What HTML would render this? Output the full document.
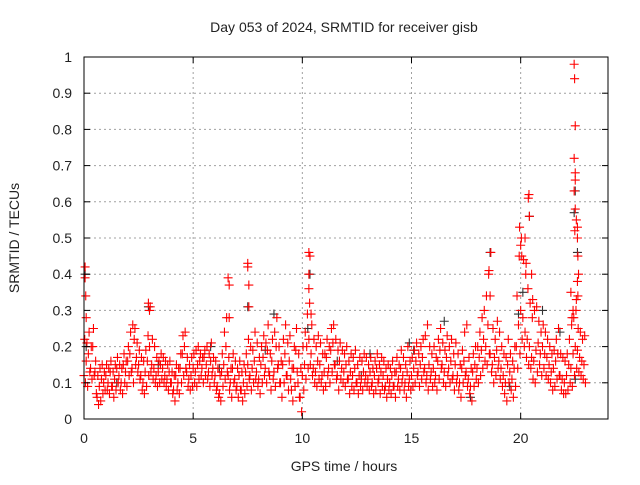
<!DOCTYPE html>
<html><head><meta charset="utf-8"><style>
body{margin:0;background:#fff}
svg text{font-family:"Liberation Sans",sans-serif;font-size:14px;fill:#222}
</style></head><body>
<svg id="chart" width="640" height="480" viewBox="0 0 640 480" xmlns="http://www.w3.org/2000/svg">
<rect width="640" height="480" fill="#fff"/>
<g id="grid"></g>
<g id="blk"></g>
<g id="red"></g>
<rect x="84" y="57" width="524" height="362" fill="none" stroke="#000" stroke-width="1"/>
<g id="ticks"></g>
<text x="344" y="32" text-anchor="middle">Day 053 of 2024, SRMTID for receiver gisb</text>
<text x="344" y="471" text-anchor="middle">GPS time / hours</text>
<text transform="translate(19,238) rotate(-90)" text-anchor="middle">SRMTID / TECUs</text>
</svg>
<script>
const xTicks=[0,5,10,15,20];
const yTicks=[0,0.1,0.2,0.3,0.4,0.5,0.6,0.7,0.8,0.9,1];
const yTickLabels=["0","0.1","0.2","0.3","0.4","0.5","0.6","0.7","0.8","0.9","1"];
const stepHours=0.1;
const redA=[.12,.16,.18,.14,.20,.13,.06,.09,.11,.10,.12,.10,.13,.09,.11,.14,.12,.10,.15,.13,.16,.18,.14,.22,.17,.15,.12,.10,.13,.16,.20,.15,.14,.12,.13,.15,.14,.12,.11,.13,.10,.08,.12,.10,.14,.18,.20,.13,.11,.12,.14,.13,.15,.16,.14,.17,.15,.13,.16,.14,.12,.09,.07,.13,.15,.20,.12,.10,.14,.11,.09,.12,.08,.10,.13,.15,.12,.14,.16,.13,.11,.15,.17,.14,.19,.12,.16,.13,.20,.15,.10,.15,.18,.12,.16,.08,.14,.19,.10,.06,.12,.15,.20,.22,.18,.14,.13,.16,.15,.12,.13,.17,.14,.19,.21,.15,.12,.16,.14,.13,.15,.11,.13,.12,.14,.10,.12,.11,.13,.12,.11,.13,.10,.12,.14,.11,.13,.12,.09,.11,.10,.12,.09,.13,.11,.14,.12,.10,.13,.11,.12,.14,.16,.13,.15,.17,.14,.12,.15,.13,.14,.12,.16,.19,.15,.13,.17,.14,.16,.12,.15,.12,.10,.14,.16,.13,.11,.09,.13,.15,.14,.17,.19,.22,.20,.26,.18,.15,.17,.19,.16,.14,.12,.10,.15,.13,.11,.14,.20,.26,.30,.28,.24,.22,.20,.17,.16,.19,.21,.18,.20,.18,.17,.15,.13,.14,.16,.18,.12,.11,.10,.12,.15,.14,.18,.20,.19,.17,.16,.15];
const redB=[.22,.21,.24,.20,.25,.16,.12,.14,.15,.13,.15,.14,.16,.13,.15,.17,.15,.14,.18,.16,.20,.24,.26,.25,.21,.19,.17,.16,.19,.23,.31,.22,.20,.17,.16,.18,.17,.16,.15,.16,.13,.12,.15,.14,.18,.23,.24,.17,.15,.17,.18,.19,.20,.18,.17,.19,.20,.18,.21,.17,.16,.14,.12,.18,.24,.28,.17,.14,.18,.16,.14,.16,.13,.15,.18,.22,.20,.19,.24,.21,.17,.20,.23,.21,.26,.18,.22,.24,.28,.20,.16,.22,.26,.21,.23,.14,.20,.25,.18,.14,.20,.24,.29,.32,.26,.22,.20,.23,.21,.18,.18,.22,.20,.25,.26,.22,.19,.21,.19,.18,.20,.16,.18,.17,.19,.15,.17,.16,.18,.17,.15,.17,.14,.16,.18,.15,.17,.16,.14,.15,.14,.16,.13,.17,.15,.19,.17,.15,.20,.16,.17,.19,.21,.18,.20,.22,.23,.26,.20,.18,.20,.17,.22,.25,.21,.19,.23,.20,.22,.18,.21,.18,.15,.19,.24,.26,.17,.14,.18,.20,.20,.24,.28,.30,.34,.40,.46,.25,.22,.27,.24,.20,.18,.17,.22,.18,.16,.20,.34,.45,.50,.44,.40,.36,.32,.28,.30,.31,.27,.24,.26,.24,.22,.20,.18,.19,.22,.25,.18,.17,.16,.18,.22,.26,.28,.30,.25,.24,.22,.23];
const redC=[.10,.09,.13,.11,.12,.07,.04,.05,.07,.08,.08,.07,.09,.06,.08,.10,.08,.07,.10,.09,.12,.13,.10,.15,.13,.11,.08,.07,.09,.12,.13,.11,.10,.09,.10,.11,.10,.09,.08,.10,.07,.05,.08,.07,.10,.12,.14,.09,.08,.09,.10,.09,.11,.12,.10,.12,.11,.09,.12,.10,.08,.06,.05,.09,.11,.13,.08,.06,.10,.08,.06,.08,.05,.07,.09,.11,.08,.10,.11,.09,.07,.10,.12,.10,.13,.08,.11,.09,.14,.10,.06,.10,.12,.08,.11,.05,.09,.13,.06,.02,.08,.11,.14,.15,.12,.10,.09,.11,.10,.08,.09,.12,.10,.13,.15,.11,.08,.11,.10,.09,.11,.07,.09,.08,.10,.07,.09,.08,.10,.09,.08,.09,.07,.08,.10,.07,.09,.08,.06,.08,.07,.09,.06,.09,.08,.10,.08,.06,.09,.08,.09,.10,.12,.09,.11,.13,.10,.08,.11,.09,.10,.08,.11,.14,.10,.09,.12,.10,.11,.08,.10,.08,.06,.10,.12,.09,.07,.05,.09,.11,.10,.12,.14,.16,.15,.18,.13,.10,.12,.14,.11,.09,.07,.05,.10,.08,.06,.09,.14,.18,.22,.20,.17,.15,.14,.11,.10,.13,.15,.12,.14,.12,.11,.10,.08,.09,.11,.12,.08,.07,.07,.08,.10,.09,.12,.14,.13,.12,.11,.10];
const spikeT=[0.05,0.05,0.08,0.1,2.95,3.0,6.6,6.65,6.65,7.5,7.5,7.55,7.55,10.3,10.35,10.3,10.3,10.4,18.55,18.6,19.95,20.0,20.05,20.2,20.25,20.35,20.38,20.4,20.5,20.55,22.45,22.47,22.5,22.45,22.5,22.5,22.45,22.5,22.48,22.55,22.6,22.6,22.62,22.65,22.6,22.55,22.62,22.4,22.3,22.35];
const spikeV=[.42,.39,.34,.28,.32,.30,.39,.37,.28,.43,.42,.37,.31,.46,.45,.40,.36,.29,.41,.34,.53,.48,.45,.50,.43,.61,.62,.56,.40,.33,.98,.94,.81,.72,.68,.66,.63,.58,.52,.55,.53,.50,.45,.40,.38,.33,.34,.30,.35,.28];
const blackT=[0.05,0.1,2.95,7.5,8.7,10.25,10.35,16.5,17.7,18.6,19.9,20.1,20.4,21,22.45,22.5,22.6,22.5,14.9,12.7,5.8,3.4,1.5,21.8,19.5,15.1,13.1,8.3,6.2,11.6];
const blackV=[.40,.20,.31,.31,.29,.25,.40,.27,.06,.46,.29,.35,.56,.30,.57,.63,.46,.11,.21,.12,.20,.15,.10,.24,.09,.19,.18,.19,.14,.16];

const NS="http://www.w3.org/2000/svg";
const X0=84,X1=608,Y0=419,Y1=57,XMAX=24;
const xs=t=>X0+t/XMAX*(X1-X0);
const ys=v=>Y0-v*(Y0-Y1);
function mk(tag,attrs,parent){const e=document.createElementNS(NS,tag);for(const k in attrs)e.setAttribute(k,attrs[k]);parent.appendChild(e);return e;}
const grid=document.getElementById('grid'),ticks=document.getElementById('ticks');
yTicks.forEach((v,i)=>{
  const y=ys(v);
  if(v>0&&v<1){const g=mk('line',{x1:X0,x2:X1,y1:y,y2:y,stroke:'#a0a0a0','stroke-dasharray':'2,3'},grid);
  
  }
  mk('line',{x1:X0,x2:X0+6,y1:y,y2:y,stroke:'#000'},ticks);
  mk('line',{x1:X1-6,x2:X1,y1:y,y2:y,stroke:'#000'},ticks);
  const t=mk('text',{x:X0-12,y:y+5,'text-anchor':'end'},ticks);
  
  
  t.textContent=yTickLabels[i];
});
xTicks.forEach(h=>{
  const x=xs(h);
  if(h>0){const g=mk('line',{x1:x,x2:x,y1:Y0,y2:Y1,stroke:'#a0a0a0','stroke-dasharray':'2,3'},grid);
  
  }
  mk('line',{x1:x,x2:x,y1:Y0,y2:Y0-6,stroke:'#000'},ticks);
  mk('line',{x1:x,x2:x,y1:Y1,y2:Y1+6,stroke:'#000'},ticks);
  const t=mk('text',{x:x,y:Y0+24,'text-anchor':'middle'},ticks);
  
  
  t.textContent=String(h);
});
function plus(g,t,v,col){
  const x=xs(t),y=ys(v);
  const p=mk('path',{d:`M${x-4.5},${y}H${x+4.5}M${x},${y-4.5}V${y+4.5}`,stroke:col,'stroke-width':1.1,fill:'none'},g);
  
  
}
const blk=document.getElementById('blk'),red=document.getElementById('red');
blackT.forEach((t,i)=>plus(blk,t,blackV[i],'#333'));
[redA,redB,redC].forEach((arr,k)=>arr.forEach((v,i)=>plus(red,i*stepHours+k*0.033,v,'#ff0000')));
spikeT.forEach((t,i)=>plus(red,t,spikeV[i],'#ff0000'));
</script>
</body></html>
